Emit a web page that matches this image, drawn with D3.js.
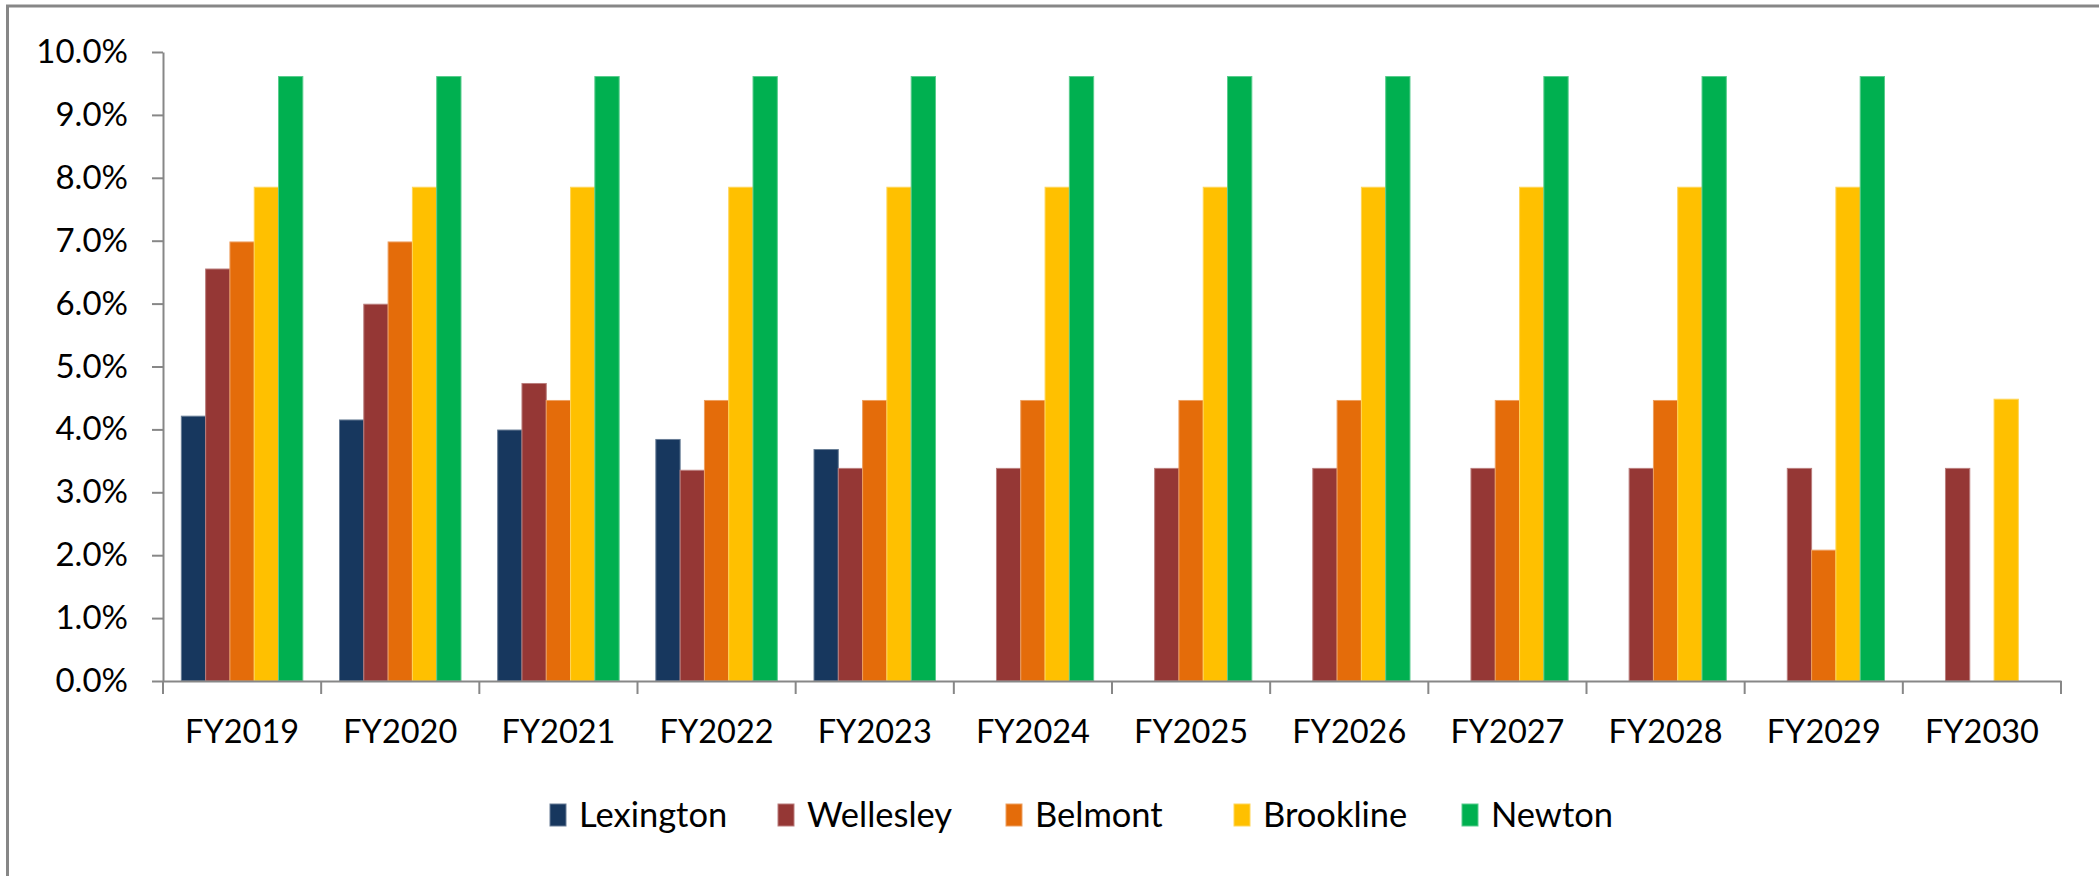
<!DOCTYPE html>
<html>
<head>
<meta charset="utf-8">
<script src="https://cdn.jsdelivr.net/npm/d3@7/dist/d3.min.js"></script>
<style>
  html, body { margin: 0; padding: 0; background: #fff; }
  svg { display: block; }
  text { font-family: Lato, "Open Sans", "Liberation Sans", sans-serif; fill: #000; }
</style>
</head>
<body>
<svg id="chart" width="2099" height="876"></svg>
<script>
// Fiscal years on the category axis
const years = ["FY2019", "FY2020", "FY2021", "FY2022", "FY2023", "FY2024",
               "FY2025", "FY2026", "FY2027", "FY2028", "FY2029", "FY2030"];

// Towns (series) and their bar colours
const towns = ["Lexington", "Wellesley", "Belmont", "Brookline", "Newton"];
const townColors = ["#17375E", "#953735", "#E46C0A", "#FFC000", "#00B050"];

// Rates in percent; null = no bar for that year
const lexington = [4.21, 4.15, 3.99, 3.84, 3.68, null, null, null, null, null, null, null];
const wellesley = [6.55, 5.99, 4.73, 3.35, 3.38, 3.38, 3.38, 3.38, 3.38, 3.38, 3.38, 3.38];
const belmont   = [6.98, 6.98, 4.46, 4.46, 4.46, 4.46, 4.46, 4.46, 4.46, 4.46, 2.08, null];
const brookline = [7.85, 7.85, 7.85, 7.85, 7.85, 7.85, 7.85, 7.85, 7.85, 7.85, 7.85, 4.48];
const newton    = [9.61, 9.61, 9.61, 9.61, 9.61, 9.61, 9.61, 9.61, 9.61, 9.61, 9.61, null];

// Y axis ticks (percent)
const yTicks = [0, 1, 2, 3, 4, 5, 6, 7, 8, 9, 10];

const seriesValues = [lexington, wellesley, belmont, brookline, newton];

const svg = d3.select("#chart");
const axisColor = "#878787";

// Outer chart frame
svg.append("rect")
  .attr("x", 7.5).attr("y", 6)
  .attr("width", 2300).attr("height", 1000)
  .attr("fill", "none")
  .attr("stroke", axisColor)
  .attr("stroke-width", 3);

const plot = { left: 163, right: 2061, top: 52, bottom: 681 };

const x0 = d3.scaleBand()
  .domain(years)
  .range([plot.left, plot.right])
  .padding(0);

const x1 = d3.scaleBand()
  .domain(towns)
  .range([0, x0.bandwidth()])
  .paddingInner(0)
  .paddingOuter(0.755);

const y = d3.scaleLinear()
  .domain([0, 10])
  .range([plot.bottom, plot.top]);

const color = d3.scaleOrdinal().domain(towns).range(townColors);

// Bars
const rows = [];
towns.forEach((t, si) => {
  years.forEach((yr, yi) => {
    const v = seriesValues[si][yi];
    if (v != null) rows.push({ town: t, year: yr, value: v });
  });
});

svg.append("g")
  .selectAll("rect")
  .data(rows)
  .join("rect")
  .attr("x", d => x0(d.year) + x1(d.town))
  .attr("width", x1.bandwidth())
  .attr("y", d => y(d.value))
  .attr("height", d => y(0) - y(d.value))
  .attr("fill", d => color(d.town))
  .attr("stroke", d => d3.interpolateRgb(color(d.town), "#ffffff")(0.35))
  .attr("stroke-width", 1);

// Y axis
const yAxis = svg.append("g")
  .attr("transform", `translate(${plot.left},0)`)
  .call(d3.axisLeft(y)
    .tickValues(yTicks)
    .tickFormat(d => d.toFixed(1) + "%")
    .tickSize(11)
    .tickSizeOuter(0)
    .tickPadding(24));
yAxis.select(".domain").attr("stroke", axisColor).attr("stroke-width", 2);
yAxis.selectAll(".tick line").attr("stroke", axisColor).attr("stroke-width", 2);
yAxis.selectAll(".tick text")
  .style("font-size", "33px")
  .attr("fill", "#000");

// X axis with labels centred under each year
const xAxis = svg.append("g")
  .attr("transform", `translate(0,${plot.bottom})`)
  .call(d3.axisBottom(x0)
    .tickSize(0)
    .tickSizeOuter(0)
    .tickPadding(39));
xAxis.select(".domain").attr("stroke", axisColor).attr("stroke-width", 2);
xAxis.selectAll(".tick text")
  .style("font-size", "32.5px")
  .attr("fill", "#000");

// Category boundary ticks
const bounds = years.map(yr => x0(yr)).concat([x0.range()[1]]);
xAxis.selectAll(".bound")
  .data(bounds)
  .join("line")
  .attr("class", "bound")
  .attr("x1", d => d).attr("x2", d => d)
  .attr("y1", 0).attr("y2", 13)
  .attr("stroke", axisColor)
  .attr("stroke-width", 2);

// Legend: equal-width entries
const legendX = 550, legendStep = 228, legendY = 815;
const legend = svg.append("g")
  .selectAll("g")
  .data(towns)
  .join("g")
  .attr("transform", (d, i) => `translate(${legendX + i * legendStep},${legendY})`);

legend.append("rect")
  .attr("x", 0).attr("y", -11)
  .attr("width", 16).attr("height", 22)
  .attr("fill", d => color(d))
  .attr("stroke", d => d3.interpolateRgb(color(d), "#ffffff")(0.35))
  .attr("stroke-width", 1);

legend.append("text")
  .attr("x", 29)
  .attr("y", 0)
  .attr("dy", "0.36em")
  .style("font-size", "34.5px")
  .text(d => d);
</script>
</body>
</html>
